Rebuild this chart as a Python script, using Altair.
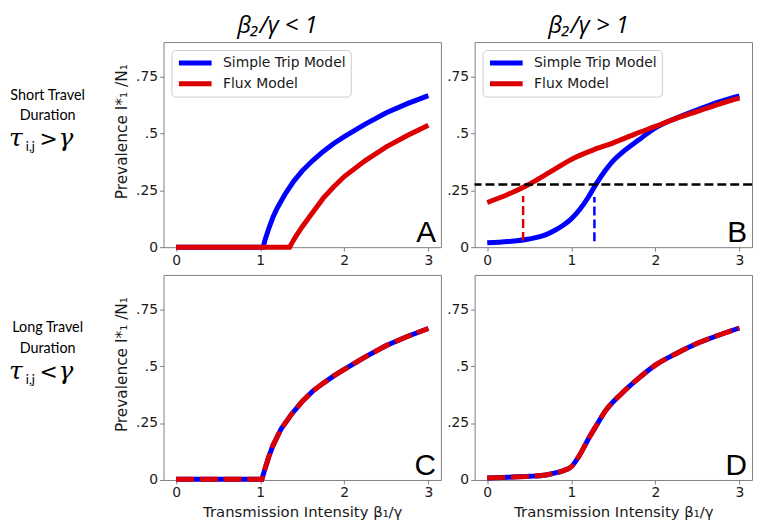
import altair as alt
import pandas as pd

# ---------------- data ----------------
MODELS = ["Simple Trip Model", "Flux Model"]
COL_TITLES = ["β₂/γ < 1", "β₂/γ > 1"]
ROW_LINE1 = ["Short Travel", "Long Travel"]
ROW_LINE2 = ["Duration", "Duration"]
ROW_REL = [">", "<"]
PANEL_LETTERS = ["A", "B", "C", "D"]
X_TICKS = [0, 1, 2, 3]
Y_TICKS = [0, 0.25, 0.5, 0.75]
X_TITLE = "Transmission Intensity  β₁/γ"
Y_TITLE = "Prevalence   I*₁ /N₁"

# Panel A
A_BLUE_X = [0, 1.035, 1.06, 1.1, 1.15, 1.2, 1.3, 1.4, 1.5, 1.625, 1.75, 1.875, 2.0, 2.25, 2.5, 2.75, 3.0]
A_BLUE_Y = [0, 0, 0.035, 0.08, 0.13, 0.17, 0.235, 0.29, 0.335, 0.38, 0.42, 0.455, 0.485, 0.54, 0.59, 0.63, 0.665]
A_RED_X = [0, 1.35, 1.38, 1.42, 1.5, 1.6, 1.75, 1.875, 2.0, 2.25, 2.5, 2.75, 3.0]
A_RED_Y = [0, 0, 0.02, 0.045, 0.09, 0.14, 0.215, 0.265, 0.31, 0.38, 0.44, 0.49, 0.535]

# Panel B
B_BLUE_X = [0, 0.25, 0.5, 0.7, 0.8, 0.9, 1.0, 1.1, 1.2, 1.3, 1.4, 1.5, 1.6, 1.8, 2.0, 2.25, 2.5, 2.75, 3.0]
B_BLUE_Y = [0.019, 0.025, 0.036, 0.055, 0.073, 0.095, 0.124, 0.165, 0.218, 0.28, 0.334, 0.38, 0.414, 0.47, 0.523, 0.567, 0.603, 0.637, 0.664]
B_RED_X = [0, 0.25, 0.5, 0.75, 1.0, 1.25, 1.5, 1.75, 2.0, 2.25, 2.5, 2.75, 3.0]
B_RED_Y = [0.196, 0.232, 0.276, 0.33, 0.385, 0.425, 0.458, 0.495, 0.53, 0.565, 0.596, 0.627, 0.654]
B_THRESHOLD = [0.275]
B_RED_MARK_X = [0.427]
B_RED_MARK_Y = [0.028]
B_RED_MARK_Y2 = [0.225]
B_BLUE_MARK_X = [1.275]
B_BLUE_MARK_Y = [0.026]
B_BLUE_MARK_Y2 = [0.22]

# Panel C (both models coincide)
C_X = [0, 1.02, 1.05, 1.1, 1.15, 1.25, 1.375, 1.5, 1.625, 1.75, 1.875, 2.0, 2.25, 2.5, 2.75, 3.0]
C_Y = [0.003, 0.003, 0.04, 0.1, 0.15, 0.225, 0.29, 0.345, 0.39, 0.425, 0.457, 0.485, 0.54, 0.59, 0.63, 0.665]

# Panel D (both models coincide)
D_X = [0, 0.25, 0.5, 0.7, 0.8, 0.9, 1.0, 1.1, 1.2, 1.3, 1.4, 1.6, 1.8, 2.0, 2.25, 2.5, 2.75, 3.0]
D_Y = [0.009, 0.012, 0.016, 0.022, 0.03, 0.04, 0.058, 0.11, 0.178, 0.24, 0.30, 0.38, 0.446, 0.504, 0.555, 0.6, 0.635, 0.667]

# ---------------- styling ----------------
BLUE = "#0000ff"
RED = "#dd0000"
W, H = 280, 207
XS = alt.Scale(domain=[-0.15, 3.15], nice=False, zero=False)
YS = alt.Scale(domain=[0, 0.9], nice=False, zero=False)
YLABEL_EXPR = "datum.value == 0 ? '0' : replace(format(datum.value, '.2~f'), '0.', '.')"


def xenc(bottom):
    if bottom:
        return alt.X("x:Q", scale=XS, title=X_TITLE,
                     axis=alt.Axis(values=X_TICKS, format="d", titlePadding=5))
    return alt.X("x:Q", scale=XS, title=None, axis=alt.Axis(values=X_TICKS, format="d"))


def yenc(left):
    if left:
        return alt.Y("y:Q", scale=YS, title=Y_TITLE,
                     axis=alt.Axis(values=Y_TICKS, labelExpr=YLABEL_EXPR,
                                   titleX=-34, titleY=90, titleFontSize=15.5))
    return alt.Y("y:Q", scale=YS, title=None,
                 axis=alt.Axis(values=Y_TICKS, labelExpr=YLABEL_EXPR))


LEGEND = alt.Legend(
    title=None, orient="top-left", offset=8, padding=5,
    fillColor="rgba(255,255,255,0.85)", strokeColor="#cccccc", cornerRadius=4,
    symbolType="stroke", symbolSize=1089, symbolStrokeWidth=5,
    labelFont="DejaVu Sans", labelFontSize=14, labelColor="#1a1a1a",
    labelOffset=9, clipHeight=16, rowPadding=5, labelLimit=300,
)


def letter(ch):
    return alt.Chart(pd.DataFrame({"t": [ch]})).mark_text(
        font="Liberation Sans", fontSize=30, align="right", baseline="alphabetic",
        color="black",
    ).encode(text="t:N", x=alt.value(W - 5), y=alt.value(H - 5))


def legend_lines(bx, by, rx, ry, interp, bottom, left):
    df = pd.concat([
        pd.DataFrame({"x": bx, "y": by, "model": MODELS[0]}),
        pd.DataFrame({"x": rx, "y": ry, "model": MODELS[1]}),
    ])
    return alt.Chart(df).mark_line(strokeWidth=5, interpolate=interp).encode(
        x=xenc(bottom), y=yenc(left),
        color=alt.Color("model:N", scale=alt.Scale(domain=MODELS, range=[BLUE, RED]),
                        legend=LEGEND),
    )


def overlap_lines(xs, ys, interp, bottom, left):
    df = pd.DataFrame({"x": xs, "y": ys})
    base = alt.Chart(df)
    blue = base.mark_line(strokeWidth=5, interpolate=interp, color=BLUE).encode(
        x=xenc(bottom), y=yenc(left))
    red = base.mark_line(strokeWidth=5, interpolate=interp, color=RED,
                         strokeDash=[18, 6]).encode(x=xenc(bottom), y=yenc(left))
    return blue, red


def col_title(i):
    return alt.TitleParams(text=COL_TITLES[i], font="Open Sans", fontStyle="italic",
                           fontSize=24, fontWeight="normal", dx=-25, offset=4,
                           anchor="middle", color="black")


# Panel A
panel_a = alt.layer(
    legend_lines(A_BLUE_X, A_BLUE_Y, A_RED_X, A_RED_Y, "linear", False, True),
    letter(PANEL_LETTERS[0]),
).properties(width=W, height=H, title=col_title(0))

# Panel B
thr = alt.Chart(pd.DataFrame({"y": B_THRESHOLD})).mark_rule(
    color="black", strokeWidth=2.5, strokeDash=[9, 4]).encode(y=yenc(False))
vred = alt.Chart(pd.DataFrame({"x": B_RED_MARK_X, "y": B_RED_MARK_Y, "y2": B_RED_MARK_Y2})).mark_rule(
    color=RED, strokeWidth=2.5, strokeDash=[9, 4]).encode(x=xenc(False), y=yenc(False), y2="y2:Q")
vblue = alt.Chart(pd.DataFrame({"x": B_BLUE_MARK_X, "y": B_BLUE_MARK_Y, "y2": B_BLUE_MARK_Y2})).mark_rule(
    color=BLUE, strokeWidth=2.5, strokeDash=[9, 4]).encode(x=xenc(False), y=yenc(False), y2="y2:Q")
panel_b = alt.layer(
    legend_lines(B_BLUE_X, B_BLUE_Y, B_RED_X, B_RED_Y, "monotone", False, False),
    thr, vred, vblue,
    letter(PANEL_LETTERS[1]),
).properties(width=W, height=H, title=col_title(1))

# Panel C
c_blue, c_red = overlap_lines(C_X, C_Y, "linear", True, True)
panel_c = alt.layer(c_blue, c_red, letter(PANEL_LETTERS[2])).properties(width=W, height=H)

# Panel D
d_blue, d_red = overlap_lines(D_X, D_Y, "monotone", True, False)
panel_d = alt.layer(d_blue, d_red, letter(PANEL_LETTERS[3])).properties(width=W, height=H)


# Row labels
def row_label(i):
    df = pd.DataFrame({"l1": [ROW_LINE1[i]], "l2": [ROW_LINE2[i]], "rel": [ROW_REL[i]],
                       "tau": ["τ"], "sub": ["i,j"], "gam": ["γ"]})
    base = alt.Chart(df)
    t1 = base.mark_text(font="Lato", fontSize=14.5, align="center", baseline="middle",
                        color="black").encode(text="l1:N", x=alt.value(39), y=alt.value(54))
    t2 = base.mark_text(font="Lato", fontSize=14.5, align="center", baseline="middle",
                        color="black").encode(text="l2:N", x=alt.value(39), y=alt.value(75))
    tau = base.mark_text(font="DejaVu Serif", fontStyle="italic", fontSize=25, align="left",
                         baseline="alphabetic", color="black").encode(
        text="tau:N", x=alt.value(0), y=alt.value(105))
    sub = base.mark_text(font="Lato", fontSize=13, align="left", baseline="alphabetic",
                         color="black").encode(text="sub:N", x=alt.value(17), y=alt.value(110))
    rel = base.mark_text(font="DejaVu Sans", fontSize=22, align="center", baseline="alphabetic",
                         color="black").encode(text="rel:N", x=alt.value(40), y=alt.value(105))
    gam = base.mark_text(font="DejaVu Serif", fontStyle="italic", fontSize=25, align="left",
                         baseline="alphabetic", color="black").encode(
        text="gam:N", x=alt.value(50), y=alt.value(105))
    return alt.layer(t1, t2, tau, sub, rel, gam).properties(
        width=122, height=H, view=alt.ViewBackground(stroke="transparent"))


chart = alt.concat(
    row_label(0), panel_a, panel_b,
    row_label(1), panel_c, panel_d,
    columns=3, spacing=alt.RowColnumber(row=28, column=34), bounds="flush",
).resolve_scale(color="independent").resolve_legend(color="independent").properties(
    padding={"top": 3, "left": 0, "right": 0, "bottom": 0}
).configure_view(stroke="#808080", strokeWidth=1).configure_axis(
    domain=False, grid=False, tickColor="#808080", tickSize=4, tickWidth=1,
    labelFont="DejaVu Sans", labelFontSize=14, labelColor="#1a1a1a", labelPadding=2,
    titleFont="DejaVu Sans", titleFontSize=15, titleFontWeight="normal", titleColor="#1a1a1a",
)

chart.save("out.html", embed_options={"renderer": "svg", "actions": False})
